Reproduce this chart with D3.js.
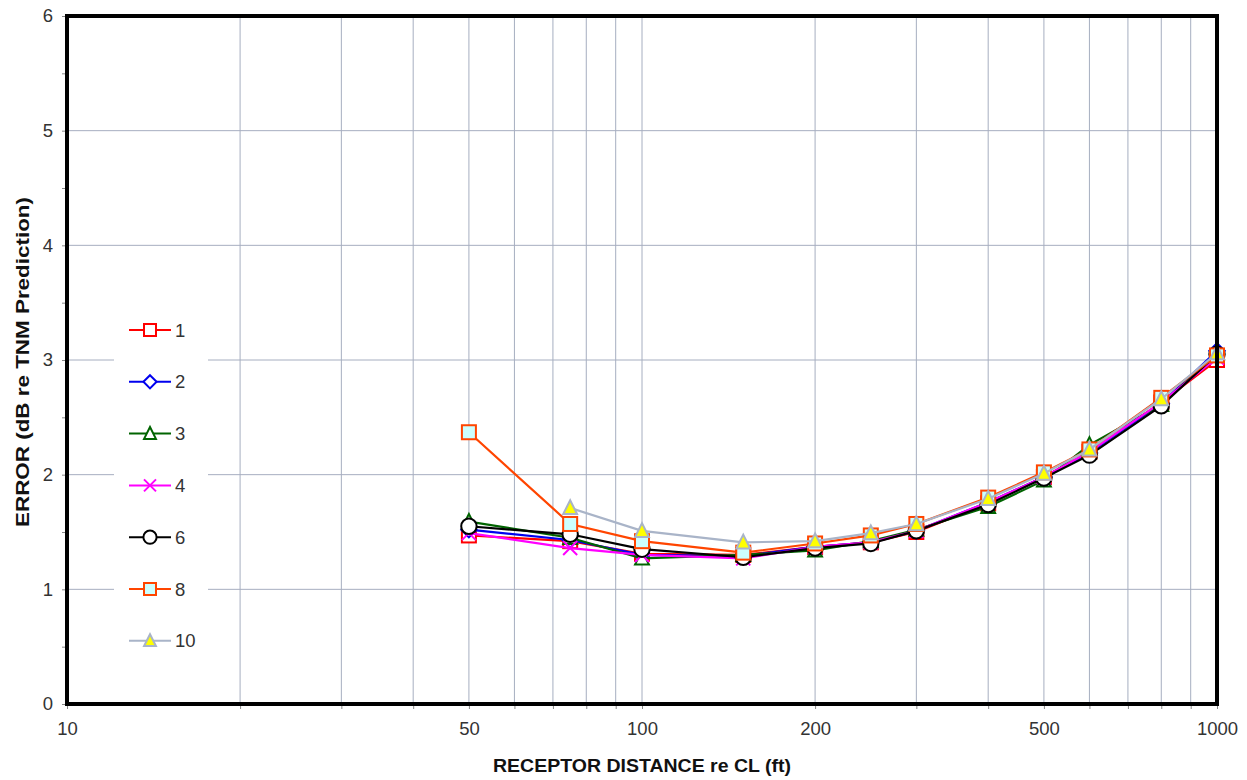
<!DOCTYPE html>
<html>
<head>
<meta charset="utf-8">
<script src="https://cdn.jsdelivr.net/npm/d3@7"></script>
<style>
  html, body { margin: 0; padding: 0; background: #fff; }
  svg { display: block; font-family: "Liberation Sans", Arial, sans-serif; }
</style>
</head>
<body>
<svg id="chart" width="1247" height="780"></svg>
<script>
// Receptor distances (ft)
const distances = [50, 75, 100, 150, 200, 250, 300, 400, 500, 600, 800, 1000];

// Error values (dB re TNM prediction) per series
const series1  = [1.47, 1.42, 1.31, 1.30, 1.37, 1.41, 1.50, 1.75, 1.98, 2.20, 2.63, 3.00];
const series2  = [1.52, 1.43, 1.30, 1.29, 1.37, 1.41, 1.51, 1.76, 1.98, 2.19, 2.62, 3.08];
const series3  = [1.59, 1.45, 1.27, 1.30, 1.34, 1.42, 1.52, 1.72, 1.95, 2.26, 2.61, 3.06];
const series4  = [1.49, 1.36, 1.30, 1.27, 1.37, 1.41, 1.51, 1.76, 1.98, 2.20, 2.63, 3.02];
const series6  = [1.55, 1.48, 1.35, 1.28, 1.36, 1.40, 1.51, 1.74, 1.97, 2.17, 2.60, 3.05];
const series8  = [2.37, 1.57, 1.42, 1.32, 1.40, 1.47, 1.57, 1.80, 2.02, 2.22, 2.67, 3.04];
const series10 = [null, 1.71, 1.51, 1.41, 1.42, 1.49, 1.57, 1.79, 2.01, 2.22, 2.66, 3.06];

const seriesNames = ["1", "2", "3", "4", "6", "8", "10"];
const seriesValues = [series1, series2, series3, series4, series6, series8, series10];

// Tick labels
const xTickLabels = [10, 50, 100, 200, 500, 1000];
const yTickLabels = [0, 1, 2, 3, 4, 5, 6];

// Styles per series: line colour, marker type, marker stroke, marker fill
const styles = [
  { line: "#ff0000", marker: "square",   stroke: "#ff0000", fill: "#ffffff" },
  { line: "#0000ee", marker: "diamond",  stroke: "#0000ee", fill: "#ffffff" },
  { line: "#006400", marker: "triangle", stroke: "#006400", fill: "#ffffff" },
  { line: "#ff00ff", marker: "cross",    stroke: "#ff00ff", fill: "none" },
  { line: "#000000", marker: "circle",   stroke: "#000000", fill: "#ffffff" },
  { line: "#ff4500", marker: "square",   stroke: "#ff4500", fill: "#ccffff" },
  { line: "#a9b4c8", marker: "triangle", stroke: "#a9b4c8", fill: "#ffff00" }
];

const svg = d3.select("#chart");
const plotLeft = 67, plotRight = 1217, plotTop = 16, plotBottom = 704;

const x = d3.scaleLog().domain([10, 1000]).range([plotLeft, plotRight]);
const y = d3.scaleLinear().domain([0, 6]).range([plotBottom, plotTop]);

// Grid lines
const gridColor = "#a6aec0";
const xGrid = [];
for (let d = 10; d <= 100; d *= 10) {
  for (let k = 2; k <= 10; k++) xGrid.push(d * k);
}
const xGridVals = xGrid.filter(v => v > 10 && v < 1000);
svg.append("g").selectAll("line").data(xGridVals).join("line")
  .attr("x1", d => x(d)).attr("x2", d => x(d))
  .attr("y1", plotTop).attr("y2", plotBottom)
  .attr("stroke", gridColor).attr("stroke-width", 1);

svg.append("g").selectAll("line").data(yTickLabels.filter(v => v > 0 && v < 6)).join("line")
  .attr("x1", plotLeft).attr("x2", plotRight)
  .attr("y1", d => y(d)).attr("y2", d => y(d))
  .attr("stroke", gridColor).attr("stroke-width", 1);

// Y axis ticks every 0.5
const yAxis = d3.axisLeft(y)
  .tickValues(d3.range(0, 6.01, 0.5))
  .tickSize(5)
  .tickFormat(d => yTickLabels.includes(d) ? d : "");
const gy = svg.append("g").attr("transform", `translate(${plotLeft},0)`).call(yAxis);
gy.select(".domain").remove();
gy.selectAll(".tick line").attr("stroke", "#888");
gy.selectAll(".tick text")
  .attr("x", -14)
  .attr("font-size", 18.5)
  .attr("fill", "#333")
  .attr("font-family", "'Liberation Sans', Arial, sans-serif");

// X axis ticks at each grid position, labels on selected values
const xAxis = d3.axisBottom(x)
  .tickValues([10].concat(xGridVals, [1000]))
  .tickSize(5)
  .tickFormat(d => xTickLabels.includes(d) ? d : "");
const gx = svg.append("g").attr("transform", `translate(0,${plotBottom})`).call(xAxis);
gx.select(".domain").remove();
gx.selectAll(".tick line").attr("stroke", "#888");
gx.selectAll(".tick text")
  .attr("y", 18)
  .attr("font-size", 18.5)
  .attr("fill", "#333")
  .attr("font-family", "'Liberation Sans', Arial, sans-serif");

// Marker drawing
function drawMarker(g, type, st, size) {
  const s = size;
  if (type === "square") {
    g.append("rect").attr("x", -s / 2).attr("y", -s / 2).attr("width", s).attr("height", s)
      .attr("fill", st.fill).attr("stroke", st.stroke).attr("stroke-width", 2);
  } else if (type === "diamond") {
    const r = s * 0.55;
    g.append("path").attr("d", `M0,${-r}L${r},0L0,${r}L${-r},0Z`)
      .attr("fill", st.fill).attr("stroke", st.stroke).attr("stroke-width", 2);
  } else if (type === "triangle") {
    const r = s * 0.55;
    g.append("path").attr("d", `M0,${-r}L${r * 0.9},${r * 0.8}L${-r * 0.9},${r * 0.8}Z`)
      .attr("fill", st.fill).attr("stroke", st.stroke).attr("stroke-width", 2);
  } else if (type === "cross") {
    const r = s * 0.5;
    g.append("path").attr("d", `M${-r},${-r}L${r},${r}M${-r},${r}L${r},${-r}`)
      .attr("stroke", st.stroke).attr("stroke-width", 2);
  } else if (type === "circle") {
    g.append("circle").attr("r", s * 0.55)
      .attr("fill", st.fill).attr("stroke", st.stroke).attr("stroke-width", 2);
  }
}

// Series lines and markers
const line = d3.line()
  .defined(d => d.v != null)
  .x(d => x(d.x)).y(d => y(d.v));

seriesValues.forEach((vals, i) => {
  const st = styles[i];
  const pts = distances.map((dx, j) => ({ x: dx, v: vals[j] }));
  const g = svg.append("g");
  g.append("path").datum(pts)
    .attr("d", line)
    .attr("fill", "none")
    .attr("stroke", st.line)
    .attr("stroke-width", 2.2);
  pts.filter(p => p.v != null).forEach(p => {
    const mg = g.append("g").attr("transform", `translate(${x(p.x)},${y(p.v)})`);
    drawMarker(mg, st.marker, st, 14);
  });
});

// Legend
const legend = svg.append("g");
legend.append("rect")
  .attr("x", 114).attr("y", 306).attr("width", 94).attr("height", 360)
  .attr("fill", "#fff");
const legendTop = 330, legendStep = 51.8;
seriesNames.forEach((name, i) => {
  const st = styles[i];
  const ly = legendTop + i * legendStep;
  const lg = legend.append("g");
  lg.append("line").attr("x1", 129).attr("x2", 171).attr("y1", ly).attr("y2", ly)
    .attr("stroke", st.line).attr("stroke-width", 2);
  const mg = lg.append("g").attr("transform", `translate(150,${ly})`);
  drawMarker(mg, st.marker, st, 12);
  lg.append("text").attr("x", 175).attr("y", ly).attr("dy", "0.36em")
    .attr("font-size", 18.5).attr("fill", "#333").text(name);
});

// Plot frame
svg.append("rect")
  .attr("x", plotLeft).attr("y", plotTop)
  .attr("width", plotRight - plotLeft).attr("height", plotBottom - plotTop)
  .attr("fill", "none").attr("stroke", "#000").attr("stroke-width", 4);

// Axis titles
svg.append("text")
  .attr("x", 642).attr("y", 772)
  .attr("text-anchor", "middle")
  .attr("font-size", 18).attr("font-weight", "bold").attr("fill", "#111")
  .attr("textLength", 298).attr("lengthAdjust", "spacingAndGlyphs")
  .text("RECEPTOR DISTANCE re CL (ft)");

svg.append("text")
  .attr("transform", "translate(29,362) rotate(-90)")
  .attr("text-anchor", "middle")
  .attr("font-size", 18).attr("font-weight", "bold").attr("fill", "#111")
  .attr("textLength", 330).attr("lengthAdjust", "spacingAndGlyphs")
  .text("ERROR (dB re TNM Prediction)");
</script>
</body>
</html>
